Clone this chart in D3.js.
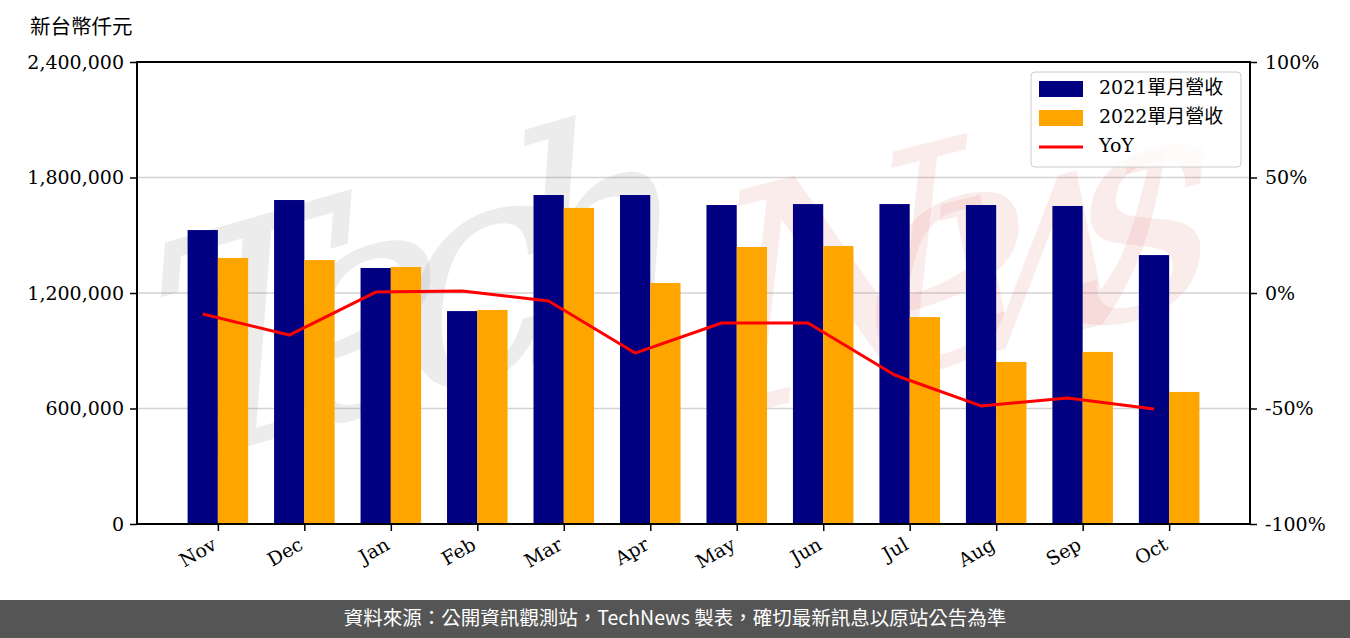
<!DOCTYPE html>
<html>
<head>
<meta charset="utf-8">
<script src="https://cdn.jsdelivr.net/npm/d3@7"></script>
<style>
  html, body { margin: 0; padding: 0; background: #fff; }
  svg { display: block; }
</style>
</head>
<body>
<div id="chart"></div>
<script>
const categories = ["Nov","Dec","Jan","Feb","Mar","Apr","May","Jun","Jul","Aug","Sep","Oct"];
const rev2021 = [1527000,1683000,1330000,1106000,1709000,1709000,1657000,1662000,1662000,1657000,1652000,1397000];
const rev2022 = [1382000,1371000,1335000,1112000,1642000,1252000,1439000,1444000,1075000,842000,894000,686000];
const yoy = [-9.1,-18.2,0.4,0.9,-3.5,-26.0,-13.0,-13.0,-35.5,-48.9,-45.5,-50.2];
const leftTicks = [0,600000,1200000,1800000,2400000];
const rightTicks = [-100,-50,0,50,100];
const seriesNames = ["2021單月營收","2022單月營收","YoY"];
const unitLabel = "新台幣仟元";
const footerText = "資料來源：公開資訊觀測站，TechNews 製表，確切最新訊息以原站公告為準";

const W = 1350, H = 638;
const m = {left:137, right:1250, top:62, bottom:524};
const bw = 0.35;
const serif = "'DejaVu Serif','Noto Sans CJK TC',serif";

const svg = d3.select("#chart").append("svg").attr("width", W).attr("height", H);

const span = (categories.length - 1) + 2*bw;
const pad = span * 0.05;
const x = d3.scaleLinear().domain([-bw - pad, categories.length - 1 + bw + pad]).range([m.left, m.right]);
const y = d3.scaleLinear().domain([0, 2400000]).range([m.bottom, m.top]);
const y2 = d3.scaleLinear().domain([-100, 100]).range([m.bottom, m.top]);

// grid
svg.append("g").selectAll("line").data(leftTicks).join("line")
  .attr("x1", m.left).attr("x2", m.right)
  .attr("y1", d => y(d)).attr("y2", d => y(d))
  .attr("stroke", "#d3d3d3").attr("stroke-width", 1.5);

// watermark
const wm = svg.append("g").attr("pointer-events","none");
wm.append("text").text("Tech")
  .attr("transform","translate(165,470) rotate(-16) skewX(-10)")
  .attr("font-family","'DejaVu Serif',serif").attr("font-style","italic")
  .attr("font-size", 300).attr("textLength", 560)
  .attr("fill","#888").attr("fill-opacity",0.16);
wm.append("text").text("News")
  .attr("transform","translate(720,420) rotate(-14) skewX(-10)")
  .attr("font-family","'DejaVu Serif',serif").attr("font-style","italic")
  .attr("font-size", 300).attr("textLength", 520)
  .attr("fill","#e07070").attr("fill-opacity",0.13);

// bars
const pxw = x(bw) - x(0);
svg.append("g").selectAll("rect").data(rev2021).join("rect")
  .attr("x", (d,i) => x(i - bw)).attr("width", pxw)
  .attr("y", d => y(d)).attr("height", d => y(0) - y(d))
  .attr("fill", "#000080");
svg.append("g").selectAll("rect").data(rev2022).join("rect")
  .attr("x", (d,i) => x(i)).attr("width", pxw)
  .attr("y", d => y(d)).attr("height", d => y(0) - y(d))
  .attr("fill", "#FFA500");

// YoY line
const line = d3.line().x((d,i) => x(i - bw/2)).y(d => y2(d));
svg.append("path").datum(yoy).attr("d", line)
  .attr("fill","none").attr("stroke","#ff0000").attr("stroke-width",3)
  .attr("stroke-linejoin","round");

// axes
const fmt = d3.format(",");
const gl = svg.append("g").attr("transform", `translate(${m.left},0)`)
  .call(d3.axisLeft(y).tickValues(leftTicks).tickFormat(fmt).tickSize(7).tickPadding(6));
const gr = svg.append("g").attr("transform", `translate(${m.right},0)`)
  .call(d3.axisRight(y2).tickValues(rightTicks).tickFormat(d => d + "%").tickSize(7).tickPadding(8));
const gb = svg.append("g").attr("transform", `translate(0,${m.bottom})`)
  .call(d3.axisBottom(x).tickValues(d3.range(categories.length)).tickFormat(i => categories[i]).tickSize(7));
[gl, gr, gb].forEach(g => {
  g.select(".domain").remove();
  g.selectAll("line").attr("stroke","#000").attr("stroke-width",1.5);
  g.selectAll("text").attr("font-family", serif).attr("font-size", 19).attr("fill","#000");
});
gb.selectAll("text")
  .attr("text-anchor","end")
  .attr("dy", null).attr("y", 0)
  .attr("transform","translate(-3,20) rotate(-30)")
  .attr("dominant-baseline","middle");

// spines
svg.append("rect").attr("x", m.left).attr("y", m.top)
  .attr("width", m.right - m.left).attr("height", m.bottom - m.top)
  .attr("fill","none").attr("stroke","#000").attr("stroke-width",2);

// unit label
svg.append("text").attr("x", 30).attr("y", 34).text(unitLabel)
  .attr("font-family", serif).attr("font-size", 20.5).attr("fill","#000");

// legend
const lg = svg.append("g").attr("transform","translate(1031,72)");
lg.append("rect").attr("width",210).attr("height",95).attr("rx",4)
  .attr("fill","#fff").attr("fill-opacity",0.8).attr("stroke","#ccc").attr("stroke-width",1);
const colors = ["#000080","#FFA500","#ff0000"];
seriesNames.forEach((n,i) => {
  const cy = 17 + i*29;
  if (i < 2) {
    lg.append("rect").attr("x",8).attr("y",cy-8).attr("width",44).attr("height",16).attr("fill",colors[i]);
  } else {
    lg.append("line").attr("x1",8).attr("x2",52).attr("y1",cy).attr("y2",cy)
      .attr("stroke",colors[i]).attr("stroke-width",3);
  }
  lg.append("text").attr("x",68).attr("y",cy).attr("dominant-baseline","middle")
    .text(n).attr("font-family", serif).attr("font-size",19).attr("fill","#000");
});

// footer
svg.append("rect").attr("x",0).attr("y",600).attr("width",W).attr("height",38).attr("fill","#555555");
svg.append("text").attr("x",675).attr("y",620).attr("text-anchor","middle").attr("dominant-baseline","middle")
  .text(footerText).attr("font-family","'Noto Sans CJK TC','Noto Sans',sans-serif")
  .attr("font-size",19.5).attr("fill","#fff");
</script>
</body>
</html>
